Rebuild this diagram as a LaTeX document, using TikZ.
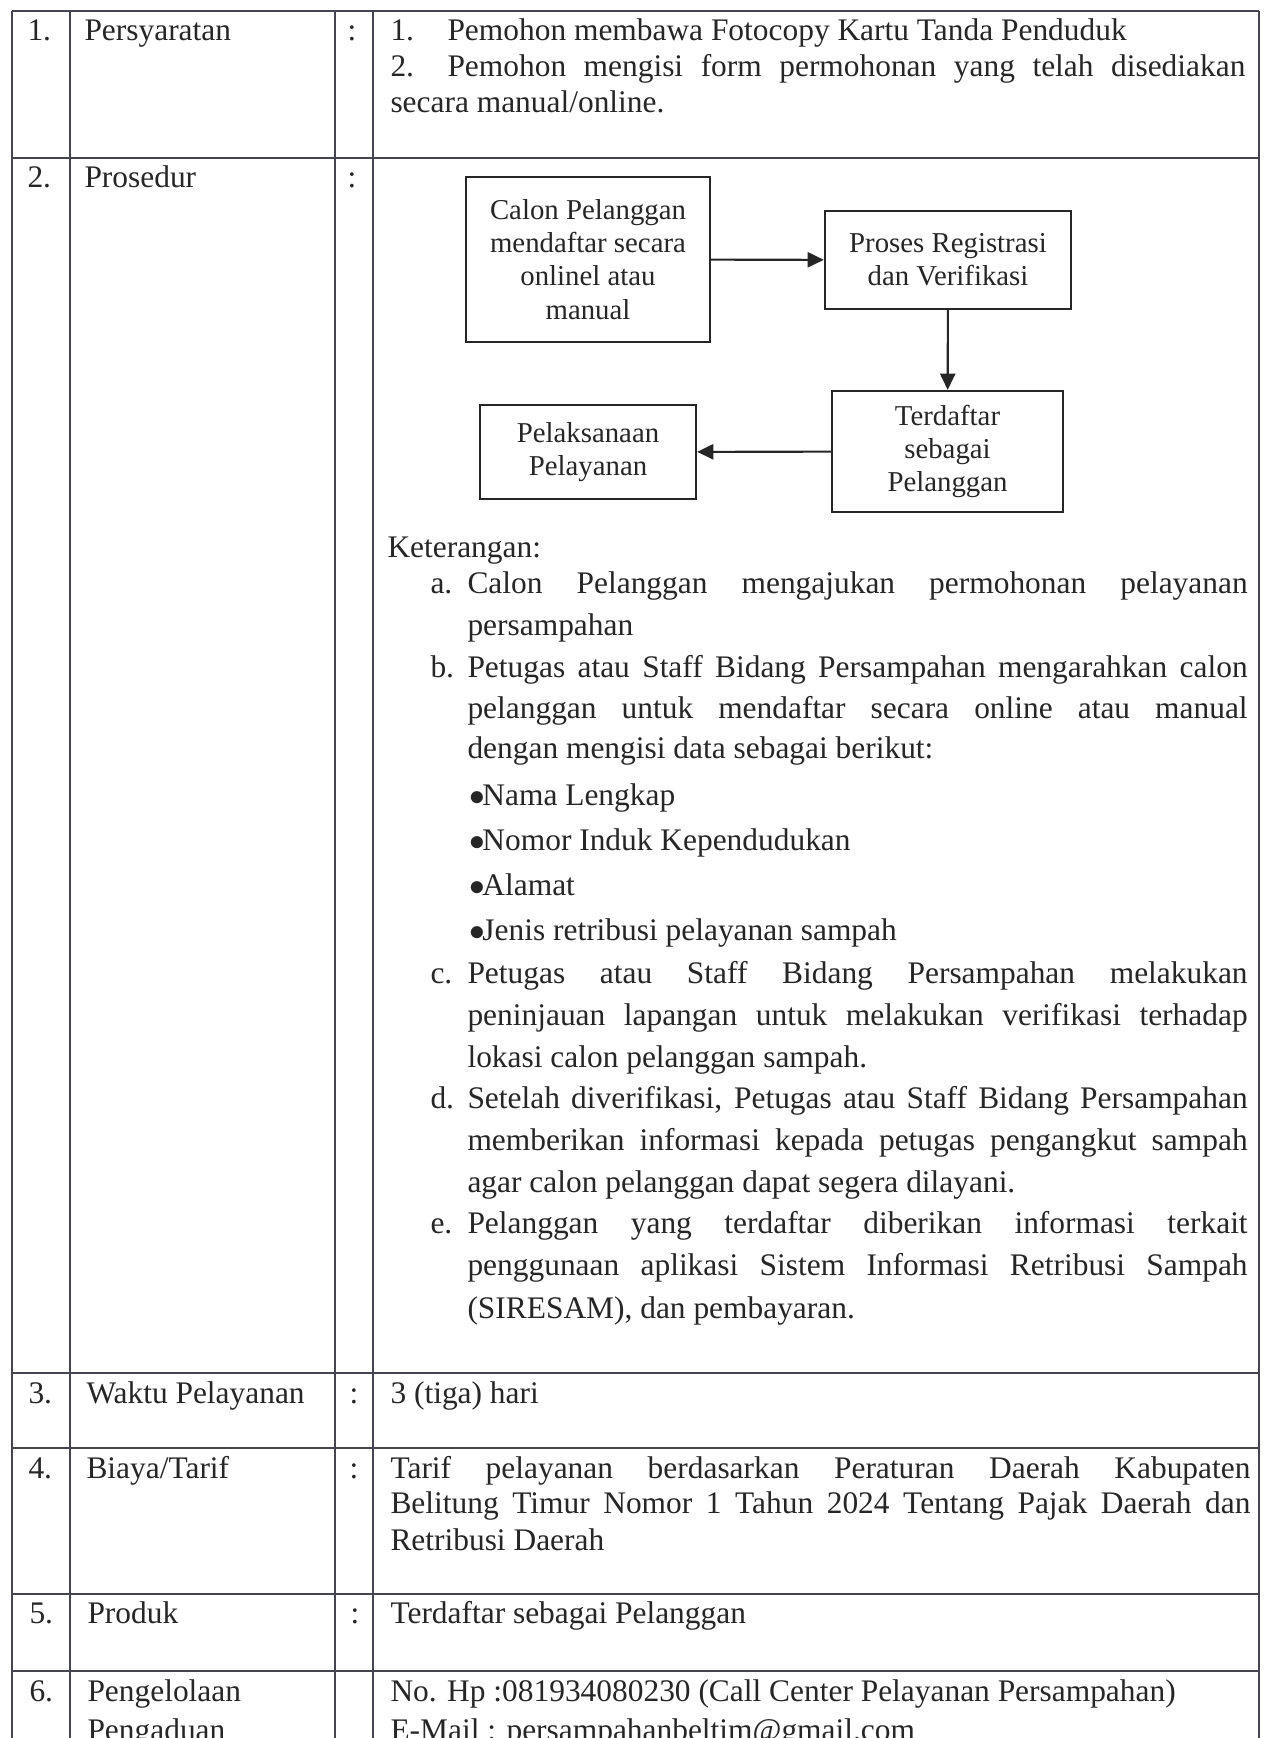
\documentclass[tikz,border=0pt]{standalone}
\usepackage{fontspec}
\setmainfont{Liberation Serif}
\usepackage{xcolor}
\usetikzlibrary{arrows.meta, positioning}
\definecolor{ink}{HTML}{262626}
\definecolor{rulegray}{HTML}{45454F}
% one justified line of a given width
\newcommand{\justline}[2]{\makebox[#1][s]{#2}}
% round list dot
\newcommand{\listdot}{\kern-1pt$\bullet$\kern-1.2pt}
\tikzset{
  txt/.style={inner sep=0pt, anchor=base west, text=ink, font=\fontsize{12}{13.8}\selectfont},
  colon/.style={inner sep=0pt, anchor=base, text=ink, font=\fontsize{12}{13.8}\selectfont},
  gridline/.style={draw=rulegray, line width=0.7pt},
  flowbox/.style={draw=ink, line width=0.9pt, inner sep=2pt, align=center, text=ink, font=\fontsize{11}{12.7}\selectfont},
  flowarrow/.style={draw=ink, line width=0.8pt, -{Triangle[length=6.2pt,width=5.8pt]}}
}
\begin{document}
\begin{tikzpicture}[x=0.382pt,y=-0.382pt]
\useasboundingbox (0,0) rectangle (1264,1738);
\clip (0,0) rectangle (1264,1738);
\fill[white] (0,0) rectangle (1264,1738);

% table rules
\draw[gridline] (12,11) -- (1259,11);
\draw[gridline] (12,158) -- (1259,158);
\draw[gridline] (12,1373) -- (1259,1373);
\draw[gridline] (12,1448) -- (1259,1448);
\draw[gridline] (12,1594) -- (1259,1594);
\draw[gridline] (12,1671) -- (1259,1671);
\draw[gridline] (12,11) -- (12,1750);
\draw[gridline] (70,11) -- (70,1750);
\draw[gridline] (335,11) -- (335,1750);
\draw[gridline] (373,11) -- (373,1750);
\draw[gridline] (1259,11) -- (1259,1750);

% row 1
\node[txt] (no1) at (27,41) {1.};
\node[txt] (lb1) at (84,41) {Persyaratan};
\node[colon] (cl1) at (352,41) {:};
\node[txt] (sy1n) at (390,41) {1.};
\node[txt] (sy1) at (447,41) {Pemohon membawa Fotocopy Kartu Tanda Penduduk};
\node[txt] (sy2n) at (390,77) {2.};
\node[txt] (sy2) at (447,77) {\justline{304.8pt}{Pemohon mengisi form permohonan yang telah disediakan}};
\node[txt] (sy2b) at (390,113) {secara manual/online.};

% row 2
\node[txt] (no2) at (27,188) {2.};
\node[txt] (lb2) at (84,188) {Prosedur};
\node[colon] (cl2) at (352,188) {:};

\node[flowbox, minimum width=93.2pt, minimum height=63pt] (daftar) at (588,259.5) {Calon Pelanggan\\mendaftar secara\\onlinel atau\\manual};
\node[flowbox, minimum width=94pt, minimum height=37.4pt] (proses) at (948,260) {Proses Registrasi\\dan Verifikasi};
\node[flowbox, minimum width=88.2pt, minimum height=46.2pt] (terdaftar) at (947.5,451.5) {Terdaftar\\sebagai\\Pelanggan};
\node[flowbox, minimum width=82.5pt, minimum height=35.9pt] (laksana) at (588,452) {Pelaksanaan\\Pelayanan};
\draw[flowarrow] (daftar) -- (proses);
\draw[flowarrow] (proses) -- (terdaftar);
\draw[flowarrow] (terdaftar) -- (laksana);

\node[txt] (ket) at (387,557) {Keterangan:};
\node[txt] (ka) at (430,593) {a.};
\node[txt] (ka1) at (467,593) {\justline{298pt}{Calon Pelanggan mengajukan permohonan pelayanan}};
\node[txt] (ka2) at (467,635) {persampahan};
\node[txt] (kb) at (430,677) {b.};
\node[txt] (kb1) at (467,677) {\justline{298pt}{Petugas atau Staff Bidang Persampahan mengarahkan calon}};
\node[txt] (kb2) at (467,718) {\justline{298pt}{pelanggan untuk mendaftar secara online atau manual}};
\node[txt] (kb3) at (467,758) {dengan mengisi data sebagai berikut:};
\node[txt] (dt1) at (472,805) {\listdot Nama Lengkap};
\node[txt] (dt2) at (472,850) {\listdot Nomor Induk Kependudukan};
\node[txt] (dt3) at (472,895) {\listdot Alamat};
\node[txt] (dt4) at (472,940) {\listdot Jenis retribusi pelayanan sampah};
\node[txt] (kc) at (430,983) {c.};
\node[txt] (kc1) at (467,983) {\justline{298pt}{Petugas atau Staff Bidang Persampahan melakukan}};
\node[txt] (kc2) at (467,1025) {\justline{298pt}{peninjauan lapangan untuk melakukan verifikasi terhadap}};
\node[txt] (kc3) at (467,1067) {lokasi calon pelanggan sampah.};
\node[txt] (kd) at (430,1108) {d.};
\node[txt] (kd1) at (467,1108) {\justline{298pt}{Setelah diverifikasi, Petugas atau Staff Bidang Persampahan}};
\node[txt] (kd2) at (467,1150) {\justline{298pt}{memberikan informasi kepada petugas pengangkut sampah}};
\node[txt] (kd3) at (467,1192) {agar calon pelanggan dapat segera dilayani.};
\node[txt] (ke) at (430,1233) {e.};
\node[txt] (ke1) at (467,1233) {\justline{298pt}{Pelanggan yang terdaftar diberikan informasi terkait}};
\node[txt] (ke2) at (467,1275) {\justline{298pt}{penggunaan aplikasi Sistem Informasi Retribusi Sampah}};
\node[txt] (ke3) at (467,1318) {(SIRESAM), dan pembayaran.};

% row 3
\node[txt] (no3) at (28,1403) {3.};
\node[txt] (lb3) at (86,1403) {Waktu Pelayanan};
\node[colon] (cl3) at (354,1403) {:};
\node[txt] (wk) at (390,1403) {3 (tiga) hari};

% row 4
\node[txt] (no4) at (28,1478) {4.};
\node[txt] (lb4) at (86,1478) {Biaya/Tarif};
\node[colon] (cl4) at (354,1478) {:};
\node[txt] (tr1) at (390,1478) {\justline{328.5pt}{Tarif pelayanan berdasarkan Peraturan Daerah Kabupaten}};
\node[txt] (tr2) at (390,1513) {\justline{328.5pt}{Belitung Timur Nomor 1 Tahun 2024 Tentang Pajak Daerah dan}};
\node[txt] (tr3) at (390,1550) {Retribusi Daerah};

% row 5
\node[txt] (no5) at (29,1623) {5.};
\node[txt] (lb5) at (87,1623) {Produk};
\node[colon] (cl5) at (355,1623) {:};
\node[txt] (pr) at (390,1623) {Terdaftar sebagai Pelanggan};

% row 6
\node[txt] (no6) at (29,1701) {6.};
\node[txt] (lb6) at (87,1701) {Pengelolaan};
\node[txt] (lb6b) at (87,1740) {Pengaduan};
\node[txt] (hp) at (390,1701) {No. Hp :081934080230 (Call Center Pelayanan Persampahan)};
\node[txt] (em) at (390,1740) {E-Mail : persampahanbeltim@gmail.com};
\end{tikzpicture}
\end{document}
